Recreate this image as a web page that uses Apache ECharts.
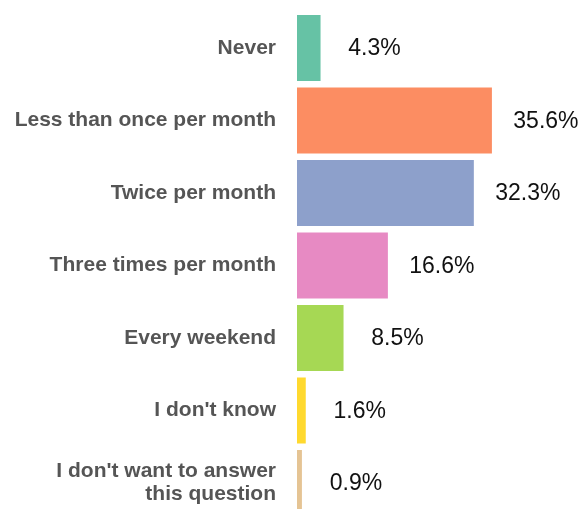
<!DOCTYPE html>
<html>
<head>
<meta charset="utf-8">
<style>
  html, body { margin: 0; padding: 0; background: #fff; overflow: hidden; }
  /* canvas runs a little past the window so the last bar is cut at the bottom edge */
  #chart { width: 582px; height: 520px; }
</style>
<script src="https://cdn.jsdelivr.net/npm/echarts@6/dist/echarts.min.js"></script>
</head>
<body>
<div id="chart"></div>
<script>
// Answer categories, top to bottom
const categories = [
  'Never',
  'Less than once per month',
  'Twice per month',
  'Three times per month',
  'Every weekend',
  "I don't know",
  "I don't want to answer\nthis question"
];
// Share of respondents (%)
const shares = [4.3, 35.6, 32.3, 16.6, 8.5, 1.6, 0.9];
// One colour per answer
const barColors = ['#66c2a5', '#fc8d62', '#8da0cb', '#e78ac3', '#a6d854', '#ffd92f', '#e5c494'];

const chart = echarts.init(document.getElementById('chart'), null, { renderer: 'canvas' });

chart.setOption({
  animation: false,
  backgroundColor: '#ffffff',
  grid: { left: 297, width: 219, top: 11.75, height: 507.5, containLabel: false },
  xAxis: {
    type: 'value',
    min: 0,
    max: 40,
    show: false
  },
  yAxis: {
    type: 'category',
    inverse: true,
    data: categories,
    axisLine: { show: false },
    axisTick: { show: false },
    splitLine: { show: false },
    axisLabel: {
      margin: 21,
      color: '#555555',
      fontFamily: 'Liberation Sans, Arial, sans-serif',
      fontWeight: 'bold',
      fontSize: 21,
      lineHeight: 23,
      align: 'right'
    }
  },
  series: [{
    type: 'bar',
    barWidth: 66,
    data: shares.map((v, i) => ({ value: v, itemStyle: { color: barColors[i] } })),
    label: {
      show: true,
      position: ['100%', '50%'],
      offset: [54, 1],
      align: 'center',
      verticalAlign: 'middle',
      color: '#111111',
      fontFamily: 'Liberation Sans, Arial, sans-serif',
      fontSize: 23,
      formatter: p => p.value.toFixed(1) + '%'
    }
  }]
});
</script>
</body>
</html>
